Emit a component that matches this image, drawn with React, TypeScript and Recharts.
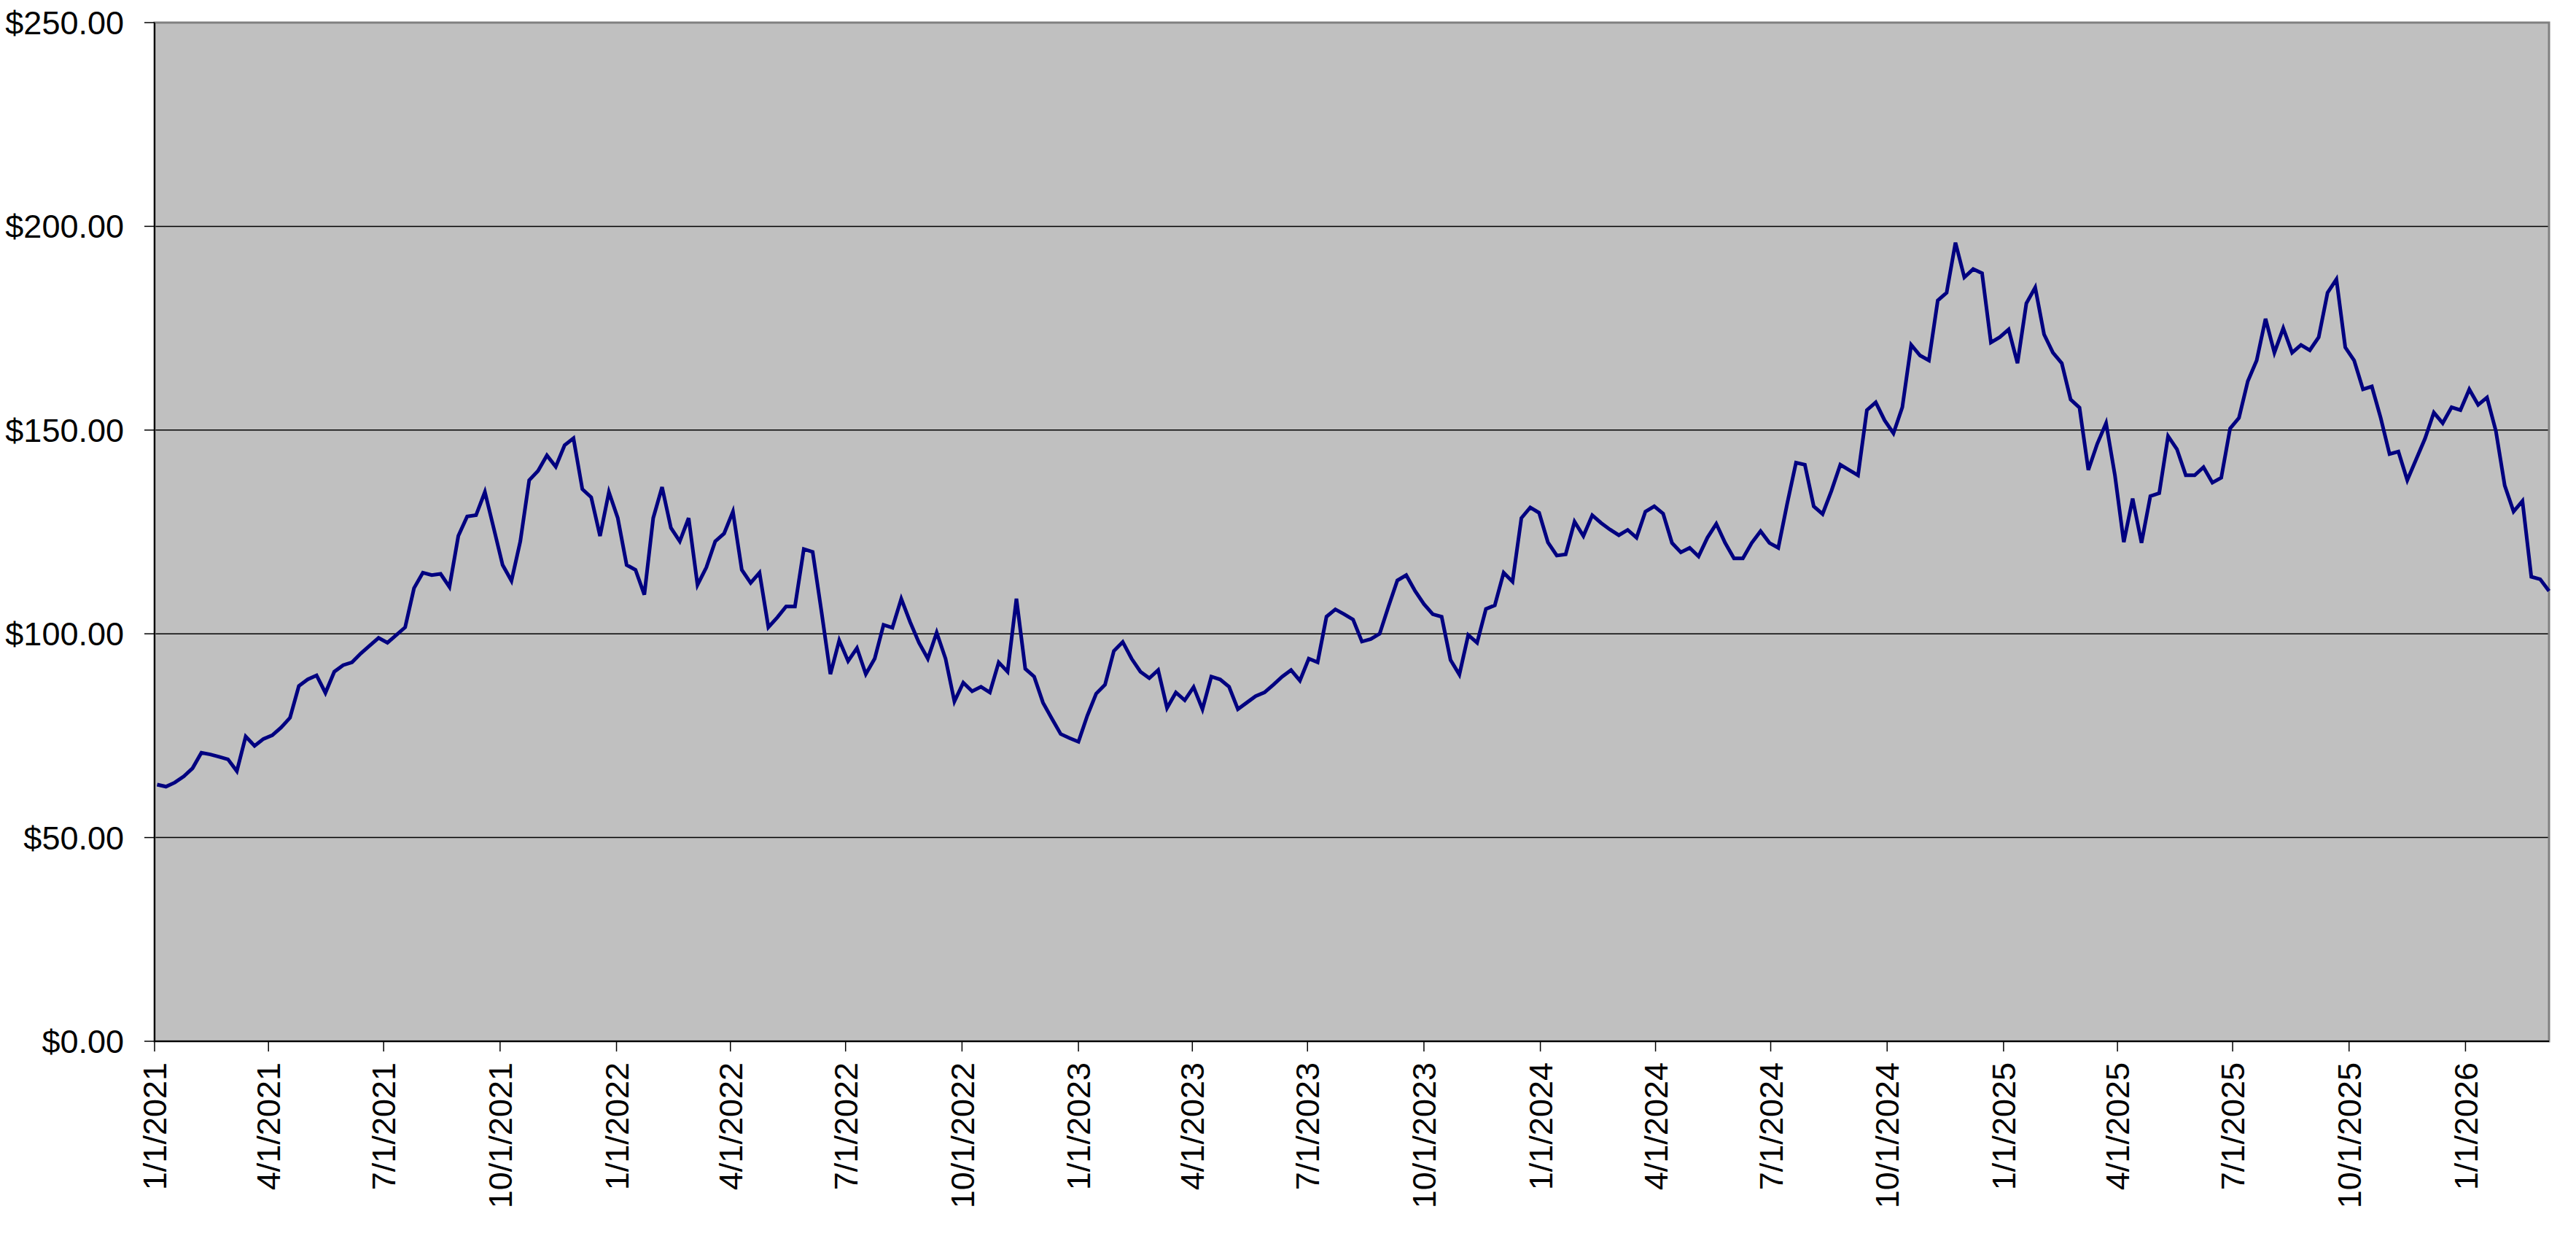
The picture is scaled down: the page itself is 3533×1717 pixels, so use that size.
import {
  CartesianGrid,
  Line,
  LineChart,
  ReferenceArea,
  XAxis,
  YAxis,
} from "recharts";

// weekly closing prices
const prices2021 = [
  63.0, 62.5, 63.5, 65.0, 67.0, 70.8, 70.4, 69.8, 69.2, 66.3, 74.8, 72.5, 74.2,
  75.1, 77.0, 79.4, 87.2, 88.8, 89.8, 85.5, 90.7, 92.3, 93.0, 95.2, 97.1, 99.0,
  97.8, 99.7, 101.6, 111.2, 115.0, 114.4, 114.7, 111.5, 124.0, 128.8, 129.1,
  134.8, 125.9, 116.9, 113.0, 122.7, 137.7, 140.0, 143.8, 141.0, 146.3, 148.0,
  135.5, 133.5, 124.0, 134.8,
];
const prices2022 = [
  128.4, 116.9, 115.7, 109.6, 128.4, 136.0, 126.0, 122.7, 128.4, 112.0, 116.3,
  122.7, 124.6, 130.0, 115.7, 112.5, 115.0, 101.6, 104.0, 106.7, 106.7, 120.8,
  120.1, 105.4, 90.1, 98.4, 93.3, 96.5, 90.1, 93.9, 102.2, 101.5, 108.6, 102.9,
  97.8, 93.9, 100.3, 93.9, 83.4, 88.0, 85.9, 87.0, 85.6, 93.0, 90.7, 108.6,
  91.4, 89.5, 83.1, 79.2, 75.4, 74.4,
];
const prices2023 = [
  73.5, 79.9, 85.3, 87.5, 95.8, 98.0, 93.9, 90.7, 89.1, 91.1, 81.8, 85.6, 83.7,
  86.9, 81.5, 89.5, 88.8, 87.0, 81.5, 83.1, 84.7, 85.6, 87.5, 89.5, 91.1, 88.5,
  93.9, 93.0, 104.2, 106.0, 104.8, 103.5, 98.1, 98.7, 100.0, 106.7, 113.1,
  114.4, 110.5, 107.3, 104.8, 104.2, 93.6, 90.0, 99.7, 97.8, 106.1, 107.0,
  115.0, 112.8, 128.4, 131.0,
];
const prices2024 = [
  129.7, 122.4, 119.2, 119.5, 127.5, 124.0, 129.1, 127.2, 125.6, 124.2, 125.5,
  123.6, 130.0, 131.3, 129.5, 122.3, 120.0, 121.1, 119.0, 123.6, 127.0, 122.3,
  118.5, 118.5, 122.3, 125.2, 122.3, 121.1, 131.9, 142.0, 141.5, 131.3, 129.4,
  135.1, 141.5, 140.2, 138.9, 154.9, 156.8, 152.4, 149.2, 155.6, 170.9, 168.3,
  167.1, 181.8, 183.7, 196.0, 187.5, 189.5, 188.5, 171.5,
];
const prices2025 = [
  172.8, 174.7, 166.4, 181.1, 185.0, 173.5, 169.0, 166.4, 157.5, 155.5, 140.2,
  146.6, 151.7, 138.9, 122.5, 133.2, 122.3, 133.8, 134.5, 148.5, 145.3, 138.9,
  138.9, 140.9, 137.1, 138.3, 150.4, 153.0, 162.0, 167.1, 177.3, 169.0, 175.0,
  169.0, 170.9, 169.6, 172.8, 183.7, 187.0, 170.3, 167.1, 160.0, 160.7, 153.0,
  144.1, 144.7, 137.7, 142.8, 147.9, 154.3, 151.7, 155.6,
];
const prices2026 = [
  154.9, 160.0, 156.2, 158.0, 149.8, 136.4, 130.0, 132.6, 114.0, 113.4, 110.5,
];

const tickLabels = [
  "1/1/2021", "4/1/2021", "7/1/2021", "10/1/2021",
  "1/1/2022", "4/1/2022", "7/1/2022", "10/1/2022",
  "1/1/2023", "4/1/2023", "7/1/2023", "10/1/2023",
  "1/1/2024", "4/1/2024", "7/1/2024", "10/1/2024",
  "1/1/2025", "4/1/2025", "7/1/2025", "10/1/2025",
  "1/1/2026",
];
const priceTicks = [0, 50, 100, 150, 200, 250];

const DAY = 86400000;
const firstWeek = Date.UTC(2021, 0, 3);

function parseDate(s: string) {
  const [m, d, y] = s.split("/").map(Number);
  return Date.UTC(y, m - 1, d);
}

const prices = [
  ...prices2021,
  ...prices2022,
  ...prices2023,
  ...prices2024,
  ...prices2025,
  ...prices2026,
];
const data = prices.map((price, i) => ({ t: firstWeek + i * 7 * DAY, price }));

const tickTimes = tickLabels.map(parseDate);
const labelByTime = new Map(tickTimes.map((t, i) => [t, tickLabels[i]]));
const xStart = tickTimes[0];
const xEnd = data[data.length - 1].t;

const FONT = '"Liberation Sans", Arial, sans-serif';

function DateTick(props: any) {
  const { x, y, payload } = props;
  return (
    <text
      x={x}
      y={y}
      transform={`rotate(-90, ${x}, ${y})`}
      textAnchor="end"
      dy="0.36em"
      fontFamily={FONT}
      fontSize={45}
      fill="#000"
    >
      {labelByTime.get(payload.value)}
    </text>
  );
}

export default function App() {
  return (
    <div style={{ position: "absolute", left: 0, top: 0, background: "#fff" }}>
      <LineChart
        width={3533}
        height={1717}
        data={data}
        margin={{ top: 31, right: 37, bottom: 0, left: 0 }}
      >
        <CartesianGrid
          vertical={false}
          fill="#C0C0C0"
          stroke="#000"
          strokeWidth={1.5}
        />
        <XAxis
          dataKey="t"
          type="number"
          domain={[xStart, xEnd]}
          ticks={tickTimes}
          interval={0}
          height={289}
          tickSize={14}
          tickMargin={15}
          tick={<DateTick />}
          axisLine={{ stroke: "#000", strokeWidth: 2 }}
          tickLine={{ stroke: "#000", strokeWidth: 1.5 }}
        />
        <YAxis
          domain={[0, 250]}
          ticks={priceTicks}
          interval={0}
          width={212}
          tickSize={14}
          tickMargin={28}
          tickFormatter={(v: number) => `$${v.toFixed(2)}`}
          tick={{ fontFamily: FONT, fontSize: 45, fill: "#000" }}
          axisLine={{ stroke: "#000", strokeWidth: 2 }}
          tickLine={{ stroke: "#000", strokeWidth: 1.5 }}
        />
        <ReferenceArea
          x1={xStart}
          x2={xEnd}
          y1={0}
          y2={250}
          fill="none"
          stroke="#808080"
          strokeWidth={3}
        />
        <Line
          type="linear"
          dataKey="price"
          stroke="#000080"
          strokeWidth={5}
          dot={false}
          isAnimationActive={false}
        />
      </LineChart>
    </div>
  );
}
